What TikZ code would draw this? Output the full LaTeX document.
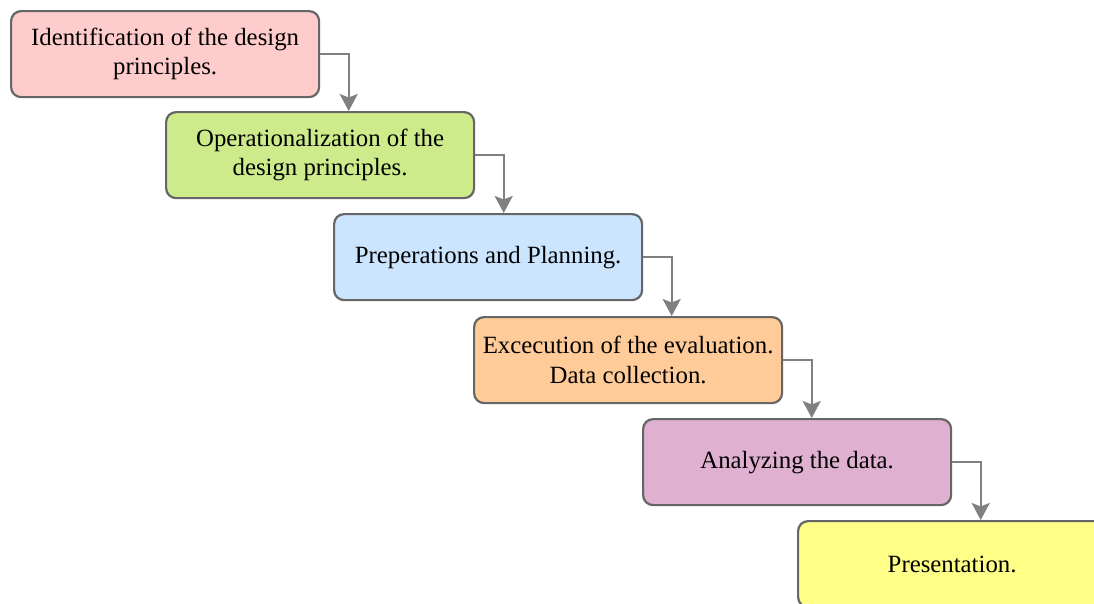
\documentclass[tikz,border=0pt]{standalone}
\usepackage{fontspec}
\setmainfont{Liberation Serif}
\usetikzlibrary{arrows.meta}
\definecolor{cpink}{HTML}{FFCCCC}
\definecolor{cgreen}{HTML}{CDEB8B}
\definecolor{cblue}{HTML}{CCE5FF}
\definecolor{corange}{HTML}{FFCC99}
\definecolor{cpurple}{HTML}{E0B0D0}
\definecolor{cyellow}{HTML}{FFFF88}
\definecolor{cborder}{HTML}{666666}
\definecolor{carrow}{HTML}{808080}
\tikzset{
  stepbox/.style={draw=cborder, line width=2.2pt, rounded corners=10pt,
    minimum width=308pt, minimum height=86pt, anchor=north west,
    align=center, inner sep=0pt,
    font=\fontsize{24.8}{29.5}\selectfont},
  arr/.style={draw=carrow, line width=2.4pt,
    -{Stealth[length=17pt,width=18pt,inset=3.5pt]}},
}
\begin{document}
\begin{tikzpicture}[x=1pt,y=-1pt]
\clip (0,0) rectangle (1094,603);
\fill[white] (0,0) rectangle (1094,603);
\node[stepbox, fill=cpink]   (b1) at (10,10)   {Identification of the design\\principles.};
\node[stepbox, fill=cgreen]  (b2) at (165,111) {Operationalization of the\\design principles.};
\node[stepbox, fill=cblue]   (b3) at (333,213) {Preperations and Planning.};
\node[stepbox, fill=corange] (b4) at (473,316) {Excecution of the evaluation.\\Data collection.};
\node[stepbox, fill=cpurple] (b5) at (642,418) {Analyzing the data.};
\node[stepbox, fill=cyellow] (b6) at (797,520) {Presentation.};
\draw[arr] (b1.east) -- ++(28.5,0) coordinate (t1) -- (t1 |- b2.north);
\draw[arr] (b2.east) -- ++(28.5,0) coordinate (t2) -- (t2 |- b3.north);
\draw[arr] (b3.east) -- ++(28.5,0) coordinate (t3) -- (t3 |- b4.north);
\draw[arr] (b4.east) -- ++(28.5,0) coordinate (t4) -- (t4 |- b5.north);
\draw[arr] (b5.east) -- ++(28.5,0) coordinate (t5) -- (t5 |- b6.north);
\end{tikzpicture}
\end{document}
